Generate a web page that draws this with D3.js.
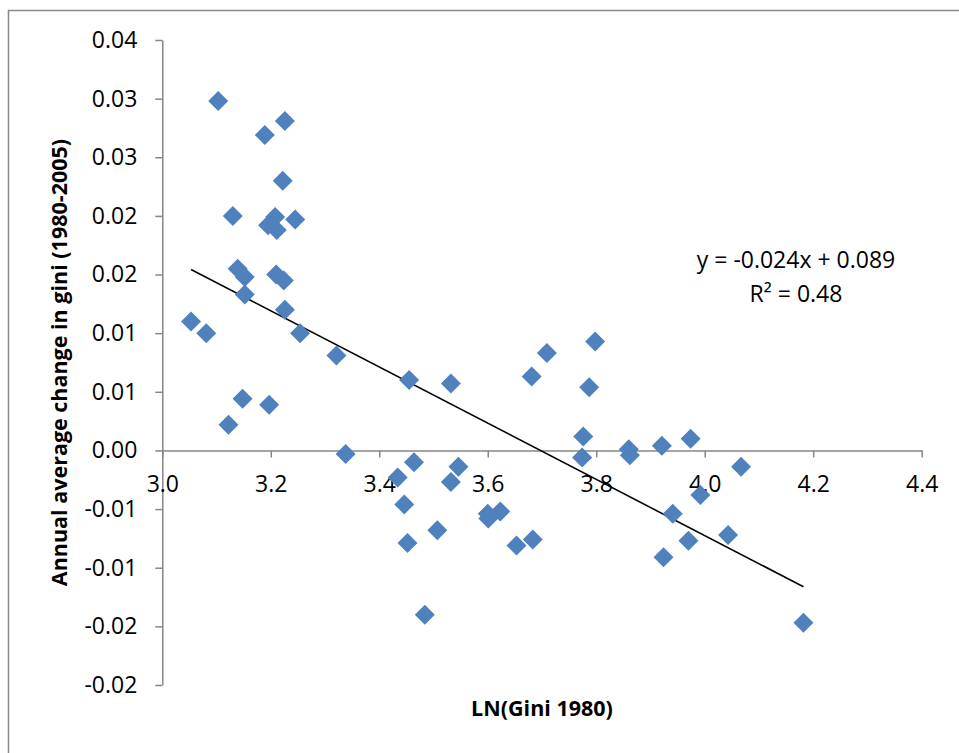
<!DOCTYPE html>
<html lang="en">
<head>
	<meta charset="UTF-8">
	<title>LN(Gini 1980) vs annual change in gini</title>
	<script type="text/javascript" src="https://cdn.jsdelivr.net/npm/d3@7"></script>
	<style>
		body { margin: 0; background: #fff; }
		text { font-family: "Open Sans", "Liberation Sans", sans-serif; fill: #000; }
		.axis path, .axis line { stroke: #868686; stroke-width: 1.5; }
		.axis text { font-size: 23px; }
		.title { font-weight: bold; font-size: 21.5px; }
		.dot { fill: #4F81BD; }
	</style>
</head>
<body>
<script type="text/javascript">
	// LN(Gini 1980)
	var lnGini = [
		3.103, 3.226, 3.189, 3.222, 3.130, 3.208, 3.245, 3.195, 3.211, 3.139,
		3.152, 3.210, 3.224, 3.152, 3.226, 3.053, 3.081, 3.254, 3.321, 3.148,
		3.197, 3.122, 3.338, 3.455, 3.532, 3.681, 3.709, 3.798, 3.787, 3.776,
		3.774, 3.860, 3.862, 3.921, 3.974, 4.067, 3.992, 3.941, 3.970, 4.043,
		3.924, 4.182, 3.464, 3.546, 3.434, 3.532, 3.446, 3.600, 3.623, 3.601,
		3.507, 3.683, 3.653, 3.452, 3.484
	];
	// annual average change in gini (1980-2005)
	var giniChange = [
		0.0298, 0.0281, 0.0269, 0.0230, 0.0200, 0.0199, 0.0197, 0.0192, 0.0188, 0.0155,
		0.0148, 0.0150, 0.0145, 0.0133, 0.0120, 0.0110, 0.0100, 0.0100, 0.0081, 0.0044,
		0.0039, 0.0022, -0.0003, 0.0060, 0.0057, 0.0063, 0.0083, 0.0093, 0.0054, 0.0012,
		-0.0006, 0.0001, -0.0004, 0.0004, 0.0010, -0.0014, -0.0038, -0.0054, -0.0077, -0.0072,
		-0.0091, -0.0147, -0.0010, -0.0014, -0.0023, -0.0027, -0.0046, -0.0054, -0.0052, -0.0058,
		-0.0068, -0.0076, -0.0081, -0.0079, -0.0140
	];

	var xTicks = [3.0, 3.2, 3.4, 3.6, 3.8, 4.0, 4.2, 4.4];
	var xTickLabels = ['3.0', '3.2', '3.4', '3.6', '3.8', '4.0', '4.2', '4.4'];
	var yTicks = [0.035, 0.03, 0.025, 0.02, 0.015, 0.01, 0.005, 0, -0.005, -0.01, -0.015, -0.02];
	var yTickLabels = ['0.04', '0.03', '0.03', '0.02', '0.02', '0.01', '0.01', '0.00', '-0.01', '-0.01', '-0.02', '-0.02'];

	// linear trendline as drawn
	var trendSlope = -0.02396;
	var trendIntercept = 0.08858;
	var trendLabels = ['y = -0.024x + 0.089', 'R\u00B2 = 0.48'];

	window.onload = function () {

		var W = 959, H = 753;
		var margin = {top: 40, left: 162.3, bottom: 68, right: 37.3};
		var width = W - margin.left - margin.right;
		var height = H - margin.top - margin.bottom;

		var svg = d3.select('body')
			.append('svg')
			.attr('width', W)
			.attr('height', H);

		// chart area frame (only left and top visible)
		svg.append('rect')
			.attr('x', 8.5)
			.attr('y', 10.5)
			.attr('width', W + 20)
			.attr('height', H + 20)
			.attr('fill', 'none')
			.attr('stroke', '#898989')
			.attr('stroke-width', 1.5);

		var g = svg.append('g')
			.attr('transform', 'translate(' + margin.left + ',' + margin.top + ')');

		var x = d3.scaleLinear()
			.domain([3.0, 4.4])
			.range([0, width]);

		var y = d3.scaleLinear()
			.domain([-0.02, 0.035])
			.range([height, 0]);

		// y axis at x = 3.0
		g.append('g')
			.attr('class', 'axis')
			.call(d3.axisLeft(y)
				.tickValues(yTicks)
				.tickSize(7)
				.tickSizeOuter(0)
				.tickPadding(18)
				.tickFormat(function (d, i) { return yTickLabels[i]; }));

		// x axis at y = 0
		g.append('g')
			.attr('class', 'axis')
			.attr('transform', 'translate(0,' + y(0) + ')')
			.call(d3.axisBottom(x)
				.tickValues(xTicks)
				.tickSize(7)
				.tickSizeOuter(0)
				.tickPadding(18)
				.tickFormat(function (d, i) { return xTickLabels[i]; }));

		// trendline over the data range
		var xr = d3.extent(lnGini);
		g.append('line')
			.attr('x1', x(xr[0]))
			.attr('y1', y(trendSlope * xr[0] + trendIntercept))
			.attr('x2', x(xr[1]))
			.attr('y2', y(trendSlope * xr[1] + trendIntercept))
			.attr('stroke', '#000')
			.attr('stroke-width', 1.6);

		var pts = lnGini.map(function (v, i) { return {x: v, y: giniChange[i]}; });

		g.selectAll('.dot')
			.data(pts)
			.enter().append('path')
			.attr('class', 'dot')
			.attr('d', d3.symbol(d3.symbolSquare, 200))
			.attr('transform', function (d) {
				return 'translate(' + x(d.x) + ',' + y(d.y) + ') rotate(45)';
			});

		// trendline label
		g.selectAll('.eq')
			.data(trendLabels)
			.enter().append('text')
			.attr('class', 'eq')
			.attr('x', 796 - margin.left)
			.attr('y', function (d, i) { return 268 - margin.top + i * 34; })
			.attr('text-anchor', 'middle')
			.style('font-size', '23px')
			.text(function (d) { return d; });

		// axis titles
		svg.append('text')
			.attr('class', 'title')
			.attr('x', margin.left + width / 2)
			.attr('y', 716)
			.attr('text-anchor', 'middle')
			.text('LN(Gini 1980)');

		svg.append('text')
			.attr('class', 'title')
			.attr('transform', 'translate(67,' + (margin.top + height / 2) + ') rotate(-90)')
			.attr('text-anchor', 'middle')
			.text('Annual average change in gini (1980-2005)');
	};
</script>
</body>
</html>
